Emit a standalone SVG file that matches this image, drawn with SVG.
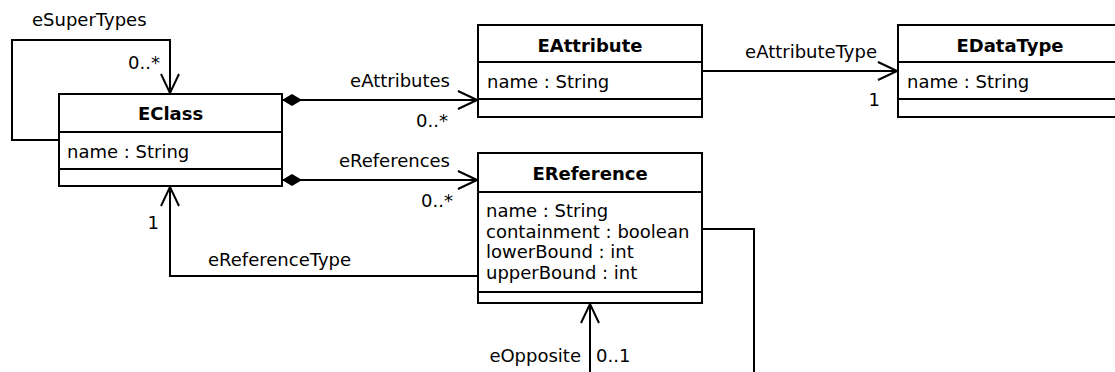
<svg xmlns="http://www.w3.org/2000/svg" width="1115" height="372" viewBox="0 0 1115 372">
<defs>
<style>
text{font-family:"DejaVu Sans","Liberation Sans",sans-serif;font-size:18px;fill:#000}
.t{font-weight:bold;text-anchor:middle}
.r{text-anchor:end}
.box{fill:#fff;stroke:#000;stroke-width:2}
.ln{fill:none;stroke:#000;stroke-width:2}
</style>
<marker id="open" viewBox="0 0 22 20" refX="20" refY="10" markerWidth="22" markerHeight="20" markerUnits="userSpaceOnUse" orient="auto">
<path d="M1,1 L20,10 L1,19" fill="none" stroke="#000" stroke-width="2"/>
</marker>
<marker id="dia" viewBox="0 0 22 14" refX="1" refY="7" markerWidth="22" markerHeight="14" markerUnits="userSpaceOnUse" orient="auto">
<path d="M1,7 L11,1 L21,7 L11,13 Z" fill="#000"/>
</marker>
</defs>
<g id="connectors">
<path class="ln" d="M59,140 H12 V40 H170 V93" marker-end="url(#open)"/>
<text x="32" y="26">eSuperTypes</text>
<text class="r" x="160" y="69">0..*</text>
<path class="ln" d="M282,100 H477" marker-start="url(#dia)" marker-end="url(#open)"/>
<text class="r" x="450" y="87">eAttributes</text>
<text class="r" x="448" y="127">0..*</text>
<path class="ln" d="M282,180 H477" marker-start="url(#dia)" marker-end="url(#open)"/>
<text class="r" x="450" y="167">eReferences</text>
<text class="r" x="453" y="207">0..*</text>
<path class="ln" d="M702,71 H897" marker-end="url(#open)"/>
<text class="r" x="877" y="58">eAttributeType</text>
<text class="r" x="880" y="106">1</text>
<path class="ln" d="M478,276 H170 V187" marker-end="url(#open)"/>
<text x="208" y="266">eReferenceType</text>
<text class="r" x="159" y="229">1</text>
<path class="ln" d="M590,380 V304" marker-end="url(#open)"/>
<text class="r" x="581" y="362">eOpposite</text>
<text x="596" y="362">0..1</text>
<path class="ln" d="M702,229 H754 V380"/>
</g>
<g id="EClass">
<rect class="box" x="59" y="94" width="223" height="92"/>
<path class="ln" d="M59,132 H282 M59,169 H282"/>
<text class="t" x="170.5" y="119.5">EClass</text>
<text x="67" y="158">name : String</text>
</g>
<g id="EAttribute">
<rect class="box" x="478" y="25" width="224" height="92"/>
<path class="ln" d="M478,62 H702 M478,99 H702"/>
<text class="t" x="590" y="51.5">EAttribute</text>
<text x="487" y="88">name : String</text>
</g>
<g id="EDataType">
<rect class="box" x="898" y="25" width="224" height="92"/>
<path class="ln" d="M898,62 H1122 M898,99 H1122"/>
<text class="t" x="1010" y="51.5">EDataType</text>
<text x="907" y="88">name : String</text>
</g>
<g id="EReference">
<rect class="box" x="478" y="153" width="224" height="150"/>
<path class="ln" d="M478,192 H702 M478,292 H702"/>
<text class="t" x="590" y="179.5">EReference</text>
<text x="486" y="217">name : String</text>
<text x="486" y="237.7">containment : boolean</text>
<text x="486" y="258.4">lowerBound : int</text>
<text x="486" y="279">upperBound : int</text>
</g>
</svg>
